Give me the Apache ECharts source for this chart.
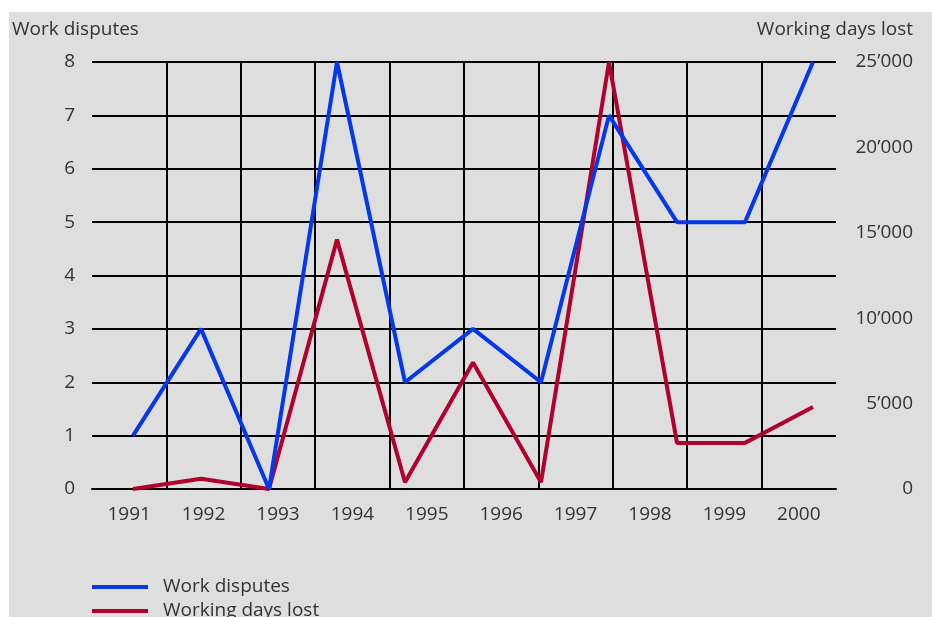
<!DOCTYPE html>
<html>
<head>
<meta charset="utf-8">
<title>Work disputes and working days lost</title>
<script src="https://cdn.jsdelivr.net/npm/echarts@6/dist/echarts.min.js"></script>
<style>
  html, body { margin: 0; padding: 0; background: #fff; }
  #chart {
    position: absolute;
    left: 9px;
    top: 12px;
    width: 923px;
    height: 605px;
    background: #dedede;
  }
</style>
</head>
<body>
<div id="chart"></div>
<script>
// category labels on the x axis
const years = ["1991", "1992", "1993", "1994", "1995", "1996", "1997", "1998", "1999", "2000"];
// the lines in the original have 11 points, spread a little off the year bands
const pointLabels = ["p1", "p2", "p3", "p4", "p5", "p6", "p7", "p8", "p9", "p10", "p11"];
const workDisputes = [1, 3, 0, 8, 2, 3, 2, 7, 5, 5, 8];
const workingDaysLost = [0, 600, 0, 14600, 400, 7400, 400, 25000, 2700, 2700, 4800];
const leftTicks = { min: 0, max: 8, interval: 1 };
const rightTicks = { min: 0, max: 25000, interval: 5000 };

const textColor = "#333";
const fontFamily = "'Open Sans', sans-serif";
const fontSize = 19;
const blue = "#0538e8";
const red = "#b0002e";

const chart = echarts.init(document.getElementById("chart"));

// thousands with a typographic apostrophe: 25'000
function fmt(v) {
  return String(v).replace(/\B(?=(\d{3})+(?!\d))/g, "’");
}

const option = {
  animation: false,
  backgroundColor: "#dedede",
  textStyle: { fontFamily: fontFamily, color: textColor },
  title: [
    {
      text: "Work disputes",
      left: 3,
      top: 8,
      padding: 0,
      textStyle: { fontSize: fontSize, fontWeight: "normal", color: textColor, fontFamily: fontFamily },
    },
    {
      text: "Working days lost",
      right: 19,
      top: 8,
      padding: 0,
      textStyle: { fontSize: fontSize, fontWeight: "normal", color: textColor, fontFamily: fontFamily },
    },
  ],
  legend: {
    orient: "vertical",
    left: 83,
    top: 565,
    height: 80,
    padding: 0,
    itemWidth: 56,
    itemHeight: 4,
    itemGap: 4,
    icon: "rect",
    data: ["Work disputes", "Working days lost"],
    textStyle: {
      fontSize: fontSize,
      color: textColor,
      fontFamily: fontFamily,
      lineHeight: 20,
      padding: [0, 0, 0, 10],
    },
  },
  grid: [
    // grid for the axes, labels and the black lines
    { left: 83, right: 96, top: 50, bottom: 128 },
    // grid for the two lines (same height, narrower)
    { left: 124, right: 119, top: 50, bottom: 128 },
  ],
  xAxis: [
    {
      type: "category",
      gridIndex: 0,
      data: years,
      boundaryGap: true,
      axisLine: { show: true, lineStyle: { color: "#000", width: 2 } },
      axisTick: { show: false },
      axisLabel: { margin: 16, fontSize: fontSize, color: textColor, fontFamily: fontFamily },
      splitLine: {
        show: true,
        showMinLine: false,
        showMaxLine: false,
        lineStyle: { color: "#000", width: 2 },
      },
    },
    {
      type: "category",
      gridIndex: 1,
      data: pointLabels,
      boundaryGap: false,
      show: false,
    },
  ],
  yAxis: [
    {
      type: "value",
      gridIndex: 0,
      position: "left",
      min: leftTicks.min,
      max: leftTicks.max,
      interval: leftTicks.interval,
      axisLine: { show: false },
      axisTick: { show: false },
      axisLabel: { margin: 17, fontSize: fontSize, color: textColor, fontFamily: fontFamily },
      splitLine: { show: true, lineStyle: { color: "#000", width: 2 } },
    },
    {
      type: "value",
      gridIndex: 0,
      position: "right",
      min: rightTicks.min,
      max: rightTicks.max,
      interval: rightTicks.interval,
      axisLine: { show: false },
      axisTick: { show: false },
      splitLine: { show: false },
      axisLabel: {
        margin: 77,
        align: "right",
        fontSize: fontSize,
        color: textColor,
        fontFamily: fontFamily,
        formatter: fmt,
      },
    },
    {
      type: "value",
      gridIndex: 1,
      min: leftTicks.min,
      max: leftTicks.max,
      show: false,
    },
    {
      type: "value",
      gridIndex: 1,
      min: rightTicks.min,
      max: rightTicks.max,
      show: false,
    },
  ],
  series: [
    {
      name: "Working days lost",
      type: "line",
      xAxisIndex: 1,
      yAxisIndex: 3,
      data: workingDaysLost,
      symbol: "none",
      color: red,
      lineStyle: { color: red, width: 4 },
    },
    {
      name: "Work disputes",
      type: "line",
      xAxisIndex: 1,
      yAxisIndex: 2,
      data: workDisputes,
      symbol: "none",
      color: blue,
      lineStyle: { color: blue, width: 4 },
    },
  ],
};

chart.setOption(option);
</script>
</body>
</html>
